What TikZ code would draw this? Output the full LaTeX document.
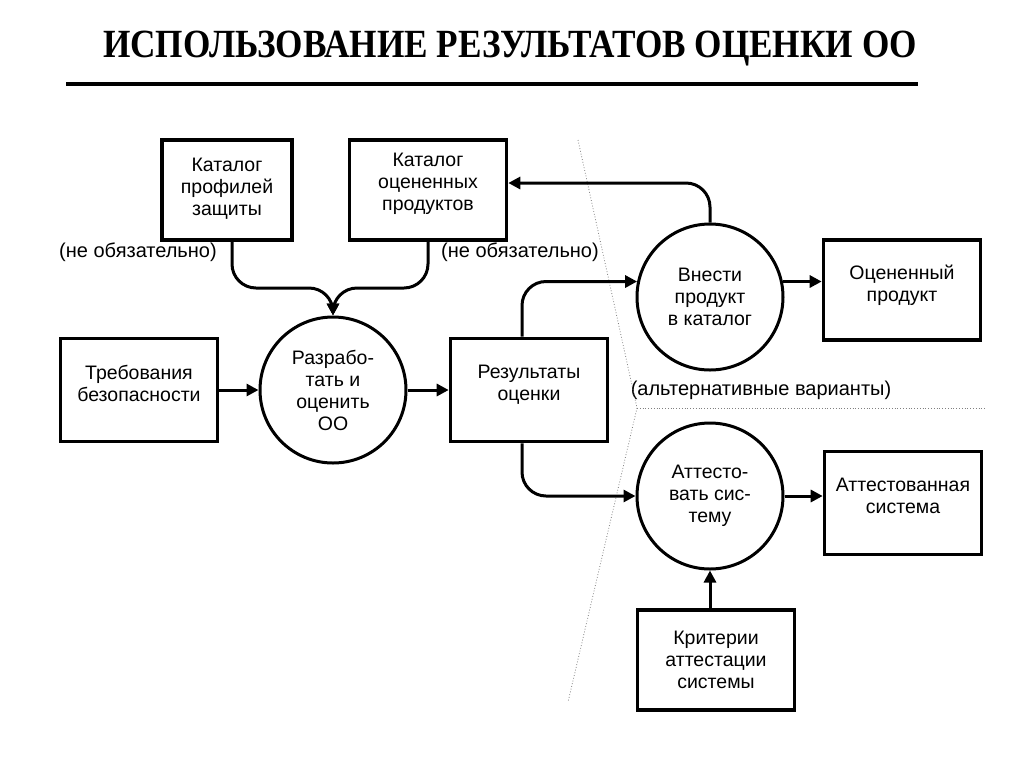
\documentclass[tikz,border=0pt]{standalone}
\usepackage{fontspec}
\setmainfont{Liberation Sans}
\newfontfamily\titlefont{Liberation Serif}
\usetikzlibrary{arrows.meta, positioning}

\begin{document}
\begin{tikzpicture}[x=0.5pt, y=-0.5pt,
    box/.style={draw, line width=1.8pt, minimum width=78.5pt, minimum height=51.5pt,
      inner sep=2pt, align=center, font=\fontsize{9.75}{11}\selectfont},
    lifted/.style={text depth=#1},
    act/.style={draw, circle, line width=1.5pt, minimum size=73pt, inner sep=0pt,
      align=center, font=\fontsize{9.75}{11}\selectfont},
    flow/.style={line width=1.5pt, -{Triangle[length=6pt, width=6pt]}},
    note/.style={font=\fontsize{10}{12}\selectfont},
    border/.style={gray, densely dotted, thin}]
  \useasboundingbox[fill=white] (0,0) rectangle (1024,767);

  % heading
  \node[font=\titlefont\bfseries\fontsize{20}{22}\selectfont] (title) at (510,49)
    {\scalebox{0.88}[1]{ИСПОЛЬЗОВАНИЕ РЕЗУЛЬТАТОВ ОЦЕНКИ ОО}};
  \draw[line width=1.6pt] (66,84) -- (918,84);

  % boxes and actions
  \node[box, lifted=3pt, minimum width=65pt, minimum height=50pt] (kpz) at (227,190) {Каталог\\профилей\\защиты};
  \node[box, lifted=8pt, minimum height=50pt] (kop) at (428,190) {Каталог\\оцененных\\продуктов};
  \node[box, lifted=7pt] (req) at (139,390) {Требования\\безопасности};
  \node[act] (dev) at (333,390) {Разрабо-\\тать и\\оценить\\ОО};
  \node[box, lifted=7pt] (res) at (529,390) {Результаты\\оценки};
  \node[act] (put) at (710,297) {Внести\\продукт\\в каталог};
  \node[box, lifted=7pt, minimum height=50pt] (prod) at (902,290) {Оцененный\\продукт};
  \node[act] (cert) at (710,496) {Аттесто-\\вать сис-\\тему};
  \node[box, lifted=7pt] (sys) at (903,503) {Аттестованная\\система};
  \node[box, minimum height=50pt] (crit) at (716,660) {Критерии\\аттестации\\системы};

  % notes
  \node[note] (opt1) at (138,252) {(не обязательно)};
  \node[note] (opt2) at (520,252) {(не обязательно)};
  \node[note] (alt) at (761,390) {(альтернативные варианты)};

  % dotted borders
  \coordinate (b1) at (578,140);
  \coordinate (b2) at (637,408);
  \coordinate (b3) at (568,702);
  \coordinate (b4) at (985,408);
  \draw[border] (b1) -- (b2) -- (b3);
  \draw[border] (b2) -- (b4);

  % flows
  \coordinate (join) at (333,288);
  \draw[flow, rounded corners=12pt] ([xshift=2.5pt]kpz.south) |- (join) -- (dev.north);
  \draw[flow, rounded corners=12pt] (kop.south) |- (join) -- (dev.north);
  \draw[flow] (req.east) -- (dev.west);
  \draw[flow] (dev.east) -- (res.west);
  \draw[flow, rounded corners=12pt] ([xshift=-3.5pt]res.north) |- (put.168);
  \draw[flow, rounded corners=12pt] ([xshift=-3.5pt]res.south) |- (cert.west);
  \draw[flow, rounded corners=12pt] (put.north) |- ([yshift=3.5pt]kop.east);
  \draw[flow] (put.12) -- (put.12 -| prod.west);
  \draw[flow] (cert.east) -- (cert.east -| sys.west);
  \draw[flow] (crit.north -| cert.south) -- (cert.south);
\end{tikzpicture}
\end{document}
